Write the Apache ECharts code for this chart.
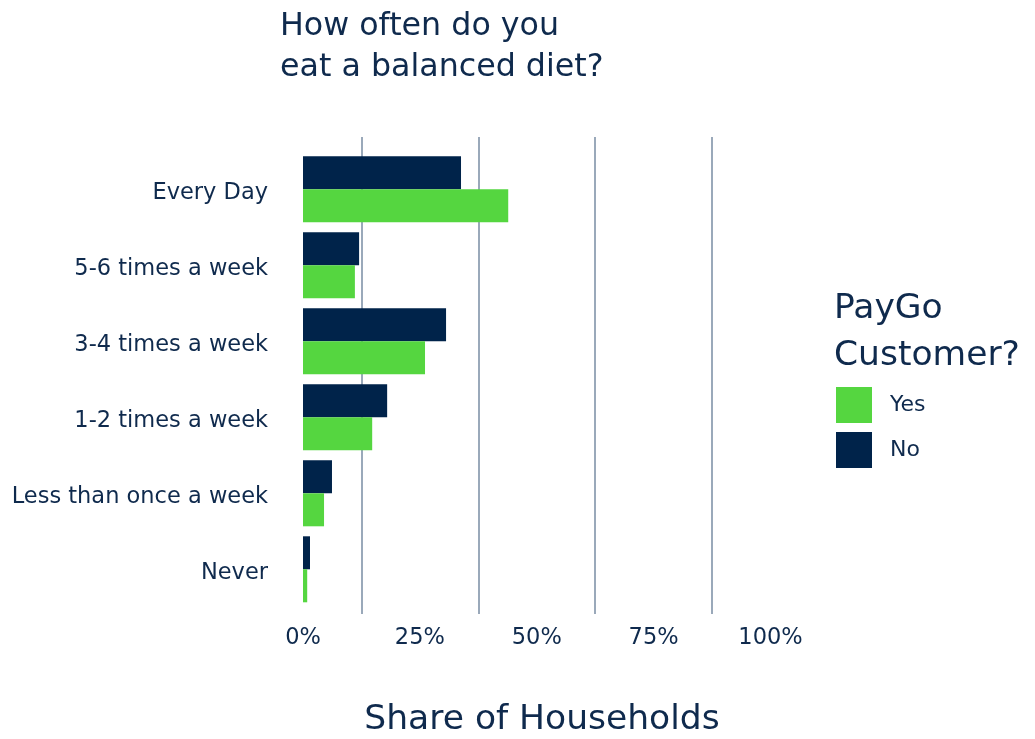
<!DOCTYPE html>
<html>
<head>
<meta charset="utf-8">
<script src="https://cdn.jsdelivr.net/npm/echarts@6/dist/echarts.min.js"></script>
<style>
  html, body { margin: 0; padding: 0; background: #ffffff; }
  #chart { width: 1035px; height: 739px; }
</style>
</head>
<body>
<div id="chart"></div>
<script>
// Diet frequency by PayGo customer status (share of households, %)
const categories = ['Every Day', '5-6 times a week', '3-4 times a week', '1-2 times a week', 'Less than once a week', 'Never'];
const yesValues = [43.9, 11.1, 26.1, 14.8, 4.5, 0.9];
const noValues = [33.8, 12.0, 30.6, 18.0, 6.2, 1.5];
const percentTicks = [0, 25, 50, 75, 100];

const FONT = '"DejaVu Sans", Inter, sans-serif';
const INK = '#0f2a4d';
const GREEN = '#55d640';
const NAVY = '#00234a';
const GRID_LINE = '#9aa9ba';

const chart = echarts.init(document.getElementById('chart'), null, { renderer: 'canvas' });

chart.setOption({
  backgroundColor: '#ffffff',
  animation: false,
  textStyle: { fontFamily: FONT, color: INK },
  title: [
    {
      text: 'How often do you\neat a balanced diet?',
      left: 275, top: 1,
      textStyle: { fontFamily: FONT, fontSize: 31.7, fontWeight: 'normal', color: INK, lineHeight: 41 }
    },
    {
      text: 'Share of Households',
      left: 537, top: 698, textAlign: 'center',
      textStyle: { fontFamily: FONT, fontSize: 34.5, fontWeight: 'normal', color: INK }
    },
    {
      text: 'PayGo\nCustomer?',
      left: 829, top: 281,
      textStyle: { fontFamily: FONT, fontSize: 34.5, fontWeight: 'normal', color: INK, lineHeight: 47 }
    }
  ],
  legend: {
    data: ['Yes', 'No'],
    orient: 'vertical',
    left: 836, top: 387,
    padding: 0,
    itemWidth: 36, itemHeight: 36, itemGap: 9,
    icon: 'rect',
    textStyle: { fontFamily: FONT, fontSize: 22, color: INK, padding: [2, 0, 0, 13] }
  },
  grid: [
    // bars
    { left: 303, right: 264.5, top: 151.3, bottom: 131.7, containLabel: false },
    // vertical reference lines and percent labels
    { left: 303, right: 264.5, top: 137, bottom: 125, containLabel: false }
  ],
  xAxis: [
    {
      gridIndex: 0, type: 'value', min: 0, max: 100,
      axisLine: { show: false }, axisTick: { show: false },
      axisLabel: { show: false }, splitLine: { show: false }
    },
    {
      gridIndex: 1, type: 'value', min: 0, max: 100, interval: 12.5,
      axisLine: { show: false }, axisTick: { show: false },
      splitLine: { show: true, lineStyle: { color: ['transparent', GRID_LINE], width: 2 } },
      axisLabel: {
        margin: 13, fontFamily: FONT, fontSize: 22.5, color: INK,
        formatter: v => (percentTicks.indexOf(v) >= 0 ? v + '%' : '')
      }
    }
  ],
  yAxis: [
    {
      gridIndex: 0, type: 'category', data: categories, inverse: true,
      axisLine: { show: false }, axisTick: { show: false }, splitLine: { show: false },
      axisLabel: {
        margin: 35, color: INK,
        formatter: v => '{c|' + v + '}',
        rich: { c: { fontFamily: FONT, fontSize: 22.5, color: INK, padding: [7, 0, 0, 0] } }
      }
    },
    {
      gridIndex: 1, type: 'value', min: 0, max: 1,
      axisLine: { show: false }, axisTick: { show: false },
      axisLabel: { show: false }, splitLine: { show: false }
    }
  ],
  series: [
    {
      name: 'No', type: 'bar', xAxisIndex: 0, yAxisIndex: 0,
      data: noValues, barWidth: 33, barGap: '0%',
      itemStyle: { color: NAVY }
    },
    {
      name: 'Yes', type: 'bar', xAxisIndex: 0, yAxisIndex: 0,
      data: yesValues, barWidth: 33, barGap: '0%',
      itemStyle: { color: GREEN }
    }
  ]
});
</script>
</body>
</html>
